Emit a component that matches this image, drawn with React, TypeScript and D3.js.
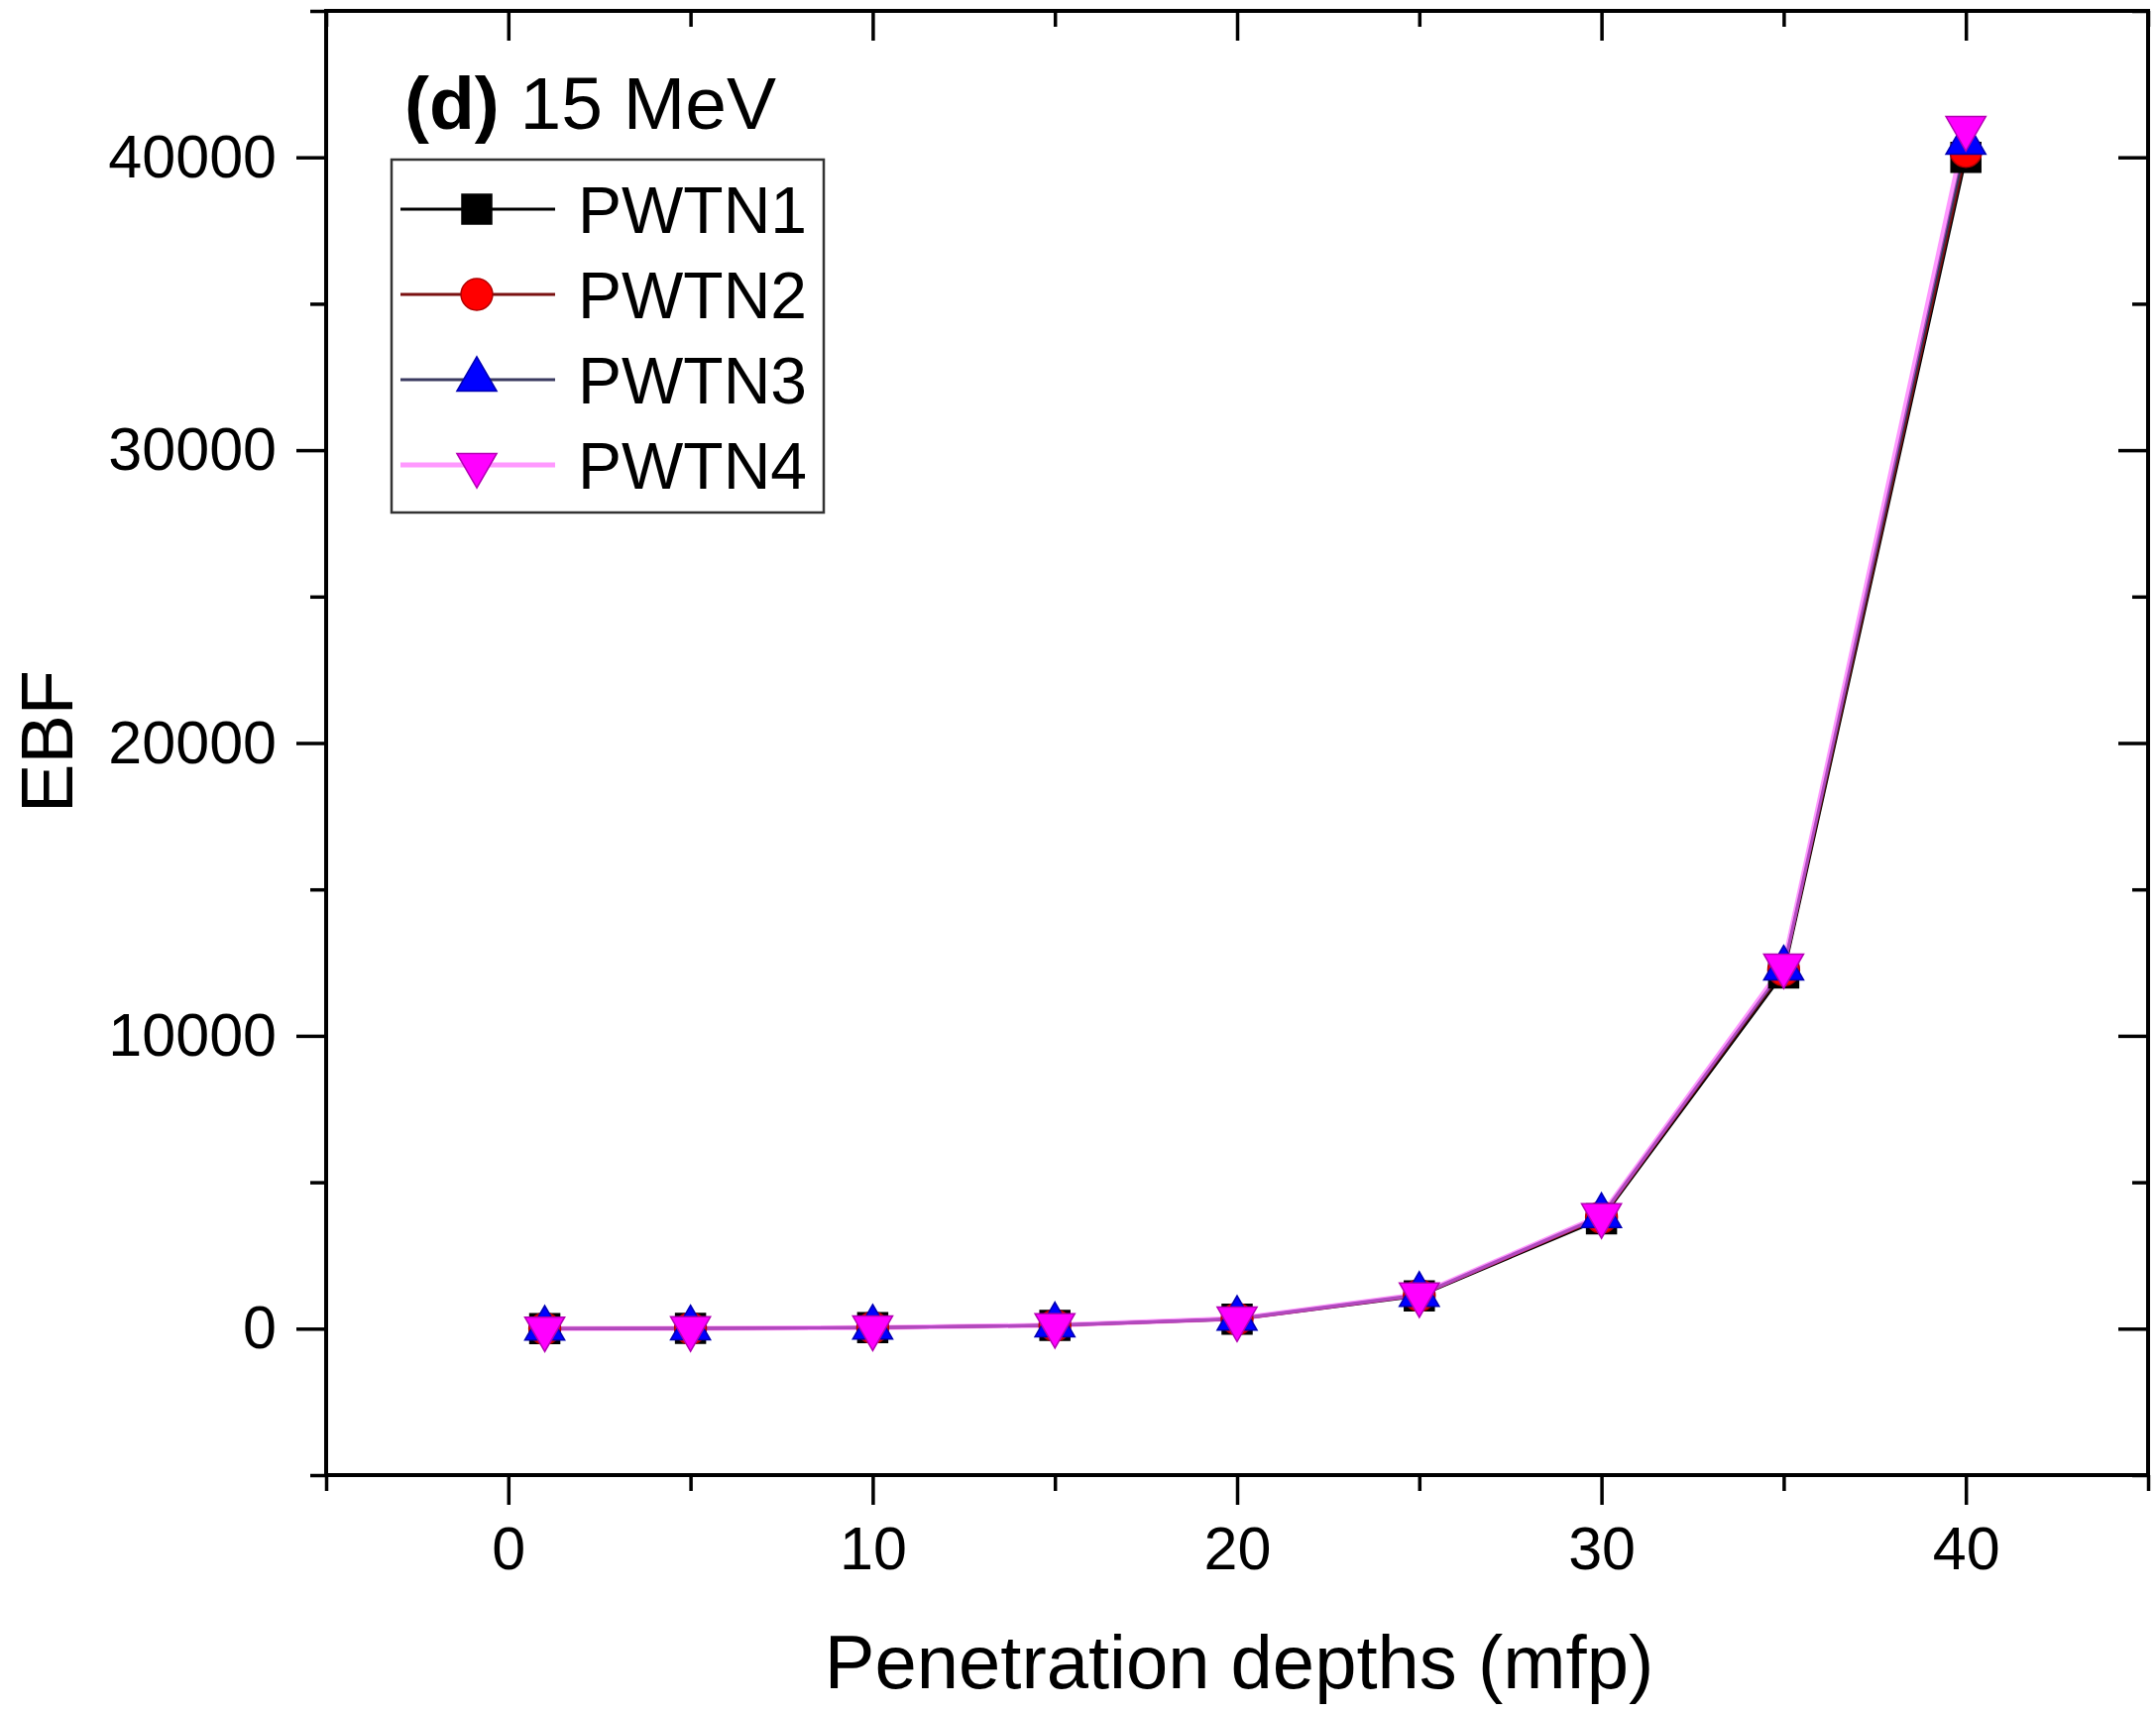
import React, { useEffect, useRef } from 'react';
import * as d3 from 'd3';

// Penetration depths (mfp)
const depths = [1, 5, 10, 15, 20, 25, 30, 35, 40];

// EBF values for each sample at 15 MeV
const pwtn1 = [2, 12, 35, 110, 320, 1120, 3750, 12150, 40000];
const pwtn2 = [2, 12, 36, 115, 330, 1140, 3800, 12250, 40200];
const pwtn3 = [2, 13, 37, 118, 340, 1160, 3850, 12300, 40500];
const pwtn4 = [2, 13, 38, 120, 345, 1170, 3870, 12400, 41000];

const seriesNames = ['PWTN1', 'PWTN2', 'PWTN3', 'PWTN4'];

const xMajorTicks = [0, 10, 20, 30, 40];
const xMinorTicks = [-5, 5, 15, 25, 35, 45];
const yMajorTicks = [0, 10000, 20000, 30000, 40000];
const yMinorTicks = [-5000, 5000, 15000, 25000, 35000, 45000];

const FONT = '"Liberation Sans", Arial, Helvetica, sans-serif';

interface Series {
  name: string;
  values: number[];
  line: string;
  lineWidth: number;
  lineOpacity: number;
  fill: string;
  symbol: d3.SymbolType;
  symbolSize: number;
  rotate: number;
}

const series: Series[] = [
  { name: seriesNames[0], values: pwtn1, line: '#000000', lineWidth: 3, lineOpacity: 1, fill: '#000000', symbol: d3.symbolSquare, symbolSize: 900, rotate: 0 },
  { name: seriesNames[1], values: pwtn2, line: '#7a1010', lineWidth: 3, lineOpacity: 1, fill: '#ff0000', symbol: d3.symbolCircle, symbolSize: 800, rotate: 0 },
  { name: seriesNames[2], values: pwtn3, line: '#3a3a60', lineWidth: 3, lineOpacity: 1, fill: '#0000ff', symbol: d3.symbolTriangle, symbolSize: 700, rotate: 0 },
  { name: seriesNames[3], values: pwtn4, line: '#ff55ff', lineWidth: 5, lineOpacity: 0.6, fill: '#ff00ff', symbol: d3.symbolTriangle, symbolSize: 700, rotate: 180 },
];

const App: React.FC = () => {
  const svgRef = useRef<SVGSVGElement | null>(null);

  useEffect(() => {
    if (!svgRef.current) return;
    const W = 2175;
    const H = 1728;
    const left = 329;
    const right = 2167;
    const top = 11;
    const bottom = 1488;

    const svg = d3.select(svgRef.current);
    svg.selectAll('*').remove();
    svg.attr('width', W).attr('height', H);

    svg.append('rect').attr('width', W).attr('height', H).attr('fill', '#fff');

    const x = d3.scaleLinear().domain([-5, 45]).range([left, right]);
    const y = d3.scaleLinear().domain([-5000, 45000]).range([bottom, top]);

    const styleAxis = (g: d3.Selection<SVGGElement, unknown, null, undefined>) => {
      g.select('.domain').remove();
      g.selectAll('line').attr('stroke', '#000').attr('stroke-width', 3.5);
      g.selectAll('text')
        .attr('fill', '#000')
        .attr('font-family', FONT)
        .attr('font-size', 61);
    };

    // Bottom axis (outward ticks)
    svg.append('g')
      .attr('transform', `translate(0,${bottom})`)
      .call(d3.axisBottom(x).tickValues(xMajorTicks).tickSize(30).tickPadding(22).tickFormat(d3.format('d')))
      .call(styleAxis);
    svg.append('g')
      .attr('transform', `translate(0,${bottom})`)
      .call(d3.axisBottom(x).tickValues(xMinorTicks).tickSize(16).tickFormat(() => ''))
      .call(styleAxis);

    // Top axis (inward ticks)
    svg.append('g')
      .attr('transform', `translate(0,${top})`)
      .call(d3.axisTop(x).tickValues(xMajorTicks).tickSize(-30).tickFormat(() => ''))
      .call(styleAxis);
    svg.append('g')
      .attr('transform', `translate(0,${top})`)
      .call(d3.axisTop(x).tickValues(xMinorTicks).tickSize(-16).tickFormat(() => ''))
      .call(styleAxis);

    // Left axis (outward ticks)
    svg.append('g')
      .attr('transform', `translate(${left},0)`)
      .call(d3.axisLeft(y).tickValues(yMajorTicks).tickSize(30).tickPadding(20).tickFormat(d3.format('d')))
      .call(styleAxis);
    svg.append('g')
      .attr('transform', `translate(${left},0)`)
      .call(d3.axisLeft(y).tickValues(yMinorTicks).tickSize(16).tickFormat(() => ''))
      .call(styleAxis);

    // Right axis (inward ticks)
    svg.append('g')
      .attr('transform', `translate(${right},0)`)
      .call(d3.axisRight(y).tickValues(yMajorTicks).tickSize(-30).tickFormat(() => ''))
      .call(styleAxis);
    svg.append('g')
      .attr('transform', `translate(${right},0)`)
      .call(d3.axisRight(y).tickValues(yMinorTicks).tickSize(-16).tickFormat(() => ''))
      .call(styleAxis);

    // Frame
    svg.append('rect')
      .attr('x', left)
      .attr('y', top)
      .attr('width', right - left)
      .attr('height', bottom - top)
      .attr('fill', 'none')
      .attr('stroke', '#000')
      .attr('stroke-width', 4);

    // Lines
    const line = d3.line<number>()
      .x((_, i) => x(depths[i]))
      .y((d) => y(d));

    series.forEach((s) => {
      svg.append('path')
        .datum(s.values)
        .attr('d', line)
        .attr('fill', 'none')
        .attr('stroke', s.line)
        .attr('stroke-width', s.lineWidth)
        .attr('stroke-opacity', s.lineOpacity);
    });

    // Markers
    series.forEach((s) => {
      const sym = d3.symbol().type(s.symbol).size(s.symbolSize);
      svg.append('g')
        .selectAll('path')
        .data(s.values)
        .enter()
        .append('path')
        .attr('d', sym)
        .attr('transform', (d, i) => `translate(${x(depths[i])},${y(d)}) rotate(${s.rotate})`)
        .attr('fill', s.fill)
        .attr('stroke', d3.color(s.fill)!.darker(1).toString())
        .attr('stroke-width', 1.5);
    });

    // Legend
    const lg = svg.append('g');
    lg.append('rect')
      .attr('x', 395)
      .attr('y', 161)
      .attr('width', 436)
      .attr('height', 356)
      .attr('fill', '#fff')
      .attr('stroke', '#333')
      .attr('stroke-width', 2.5);

    series.forEach((s, i) => {
      const cy = 211 + i * 86;
      lg.append('line')
        .attr('x1', 404)
        .attr('x2', 560)
        .attr('y1', cy)
        .attr('y2', cy)
        .attr('stroke', s.line)
        .attr('stroke-width', s.lineWidth)
        .attr('stroke-opacity', s.lineOpacity);
      lg.append('path')
        .attr('d', d3.symbol().type(s.symbol).size(s.symbolSize)())
        .attr('transform', `translate(481,${cy}) rotate(${s.rotate})`)
        .attr('fill', s.fill)
        .attr('stroke', d3.color(s.fill)!.darker(1).toString())
        .attr('stroke-width', 1.5);
      lg.append('text')
        .attr('x', 583)
        .attr('y', cy + 24)
        .attr('font-family', FONT)
        .attr('font-size', 66)
        .attr('fill', '#000')
        .text(s.name);
    });

    // Panel title
    const title = svg.append('text')
      .attr('x', 408)
      .attr('y', 130)
      .attr('font-family', FONT)
      .attr('font-size', 75)
      .attr('fill', '#000');
    title.append('tspan').attr('font-weight', 'bold').text('(d)');
    title.append('tspan').text(' 15 MeV');

    // Axis titles
    svg.append('text')
      .attr('x', 1250)
      .attr('y', 1703)
      .attr('text-anchor', 'middle')
      .attr('font-family', FONT)
      .attr('font-size', 76)
      .attr('fill', '#000')
      .text('Penetration depths (mfp)');

    svg.append('text')
      .attr('transform', 'translate(73,748) rotate(-90)')
      .attr('text-anchor', 'middle')
      .attr('font-family', FONT)
      .attr('font-size', 74)
      .attr('fill', '#000')
      .text('EBF');
  }, []);

  return <svg ref={svgRef} style={{ position: 'absolute', left: 0, top: 0, display: 'block' }} />;
};

export default App;
